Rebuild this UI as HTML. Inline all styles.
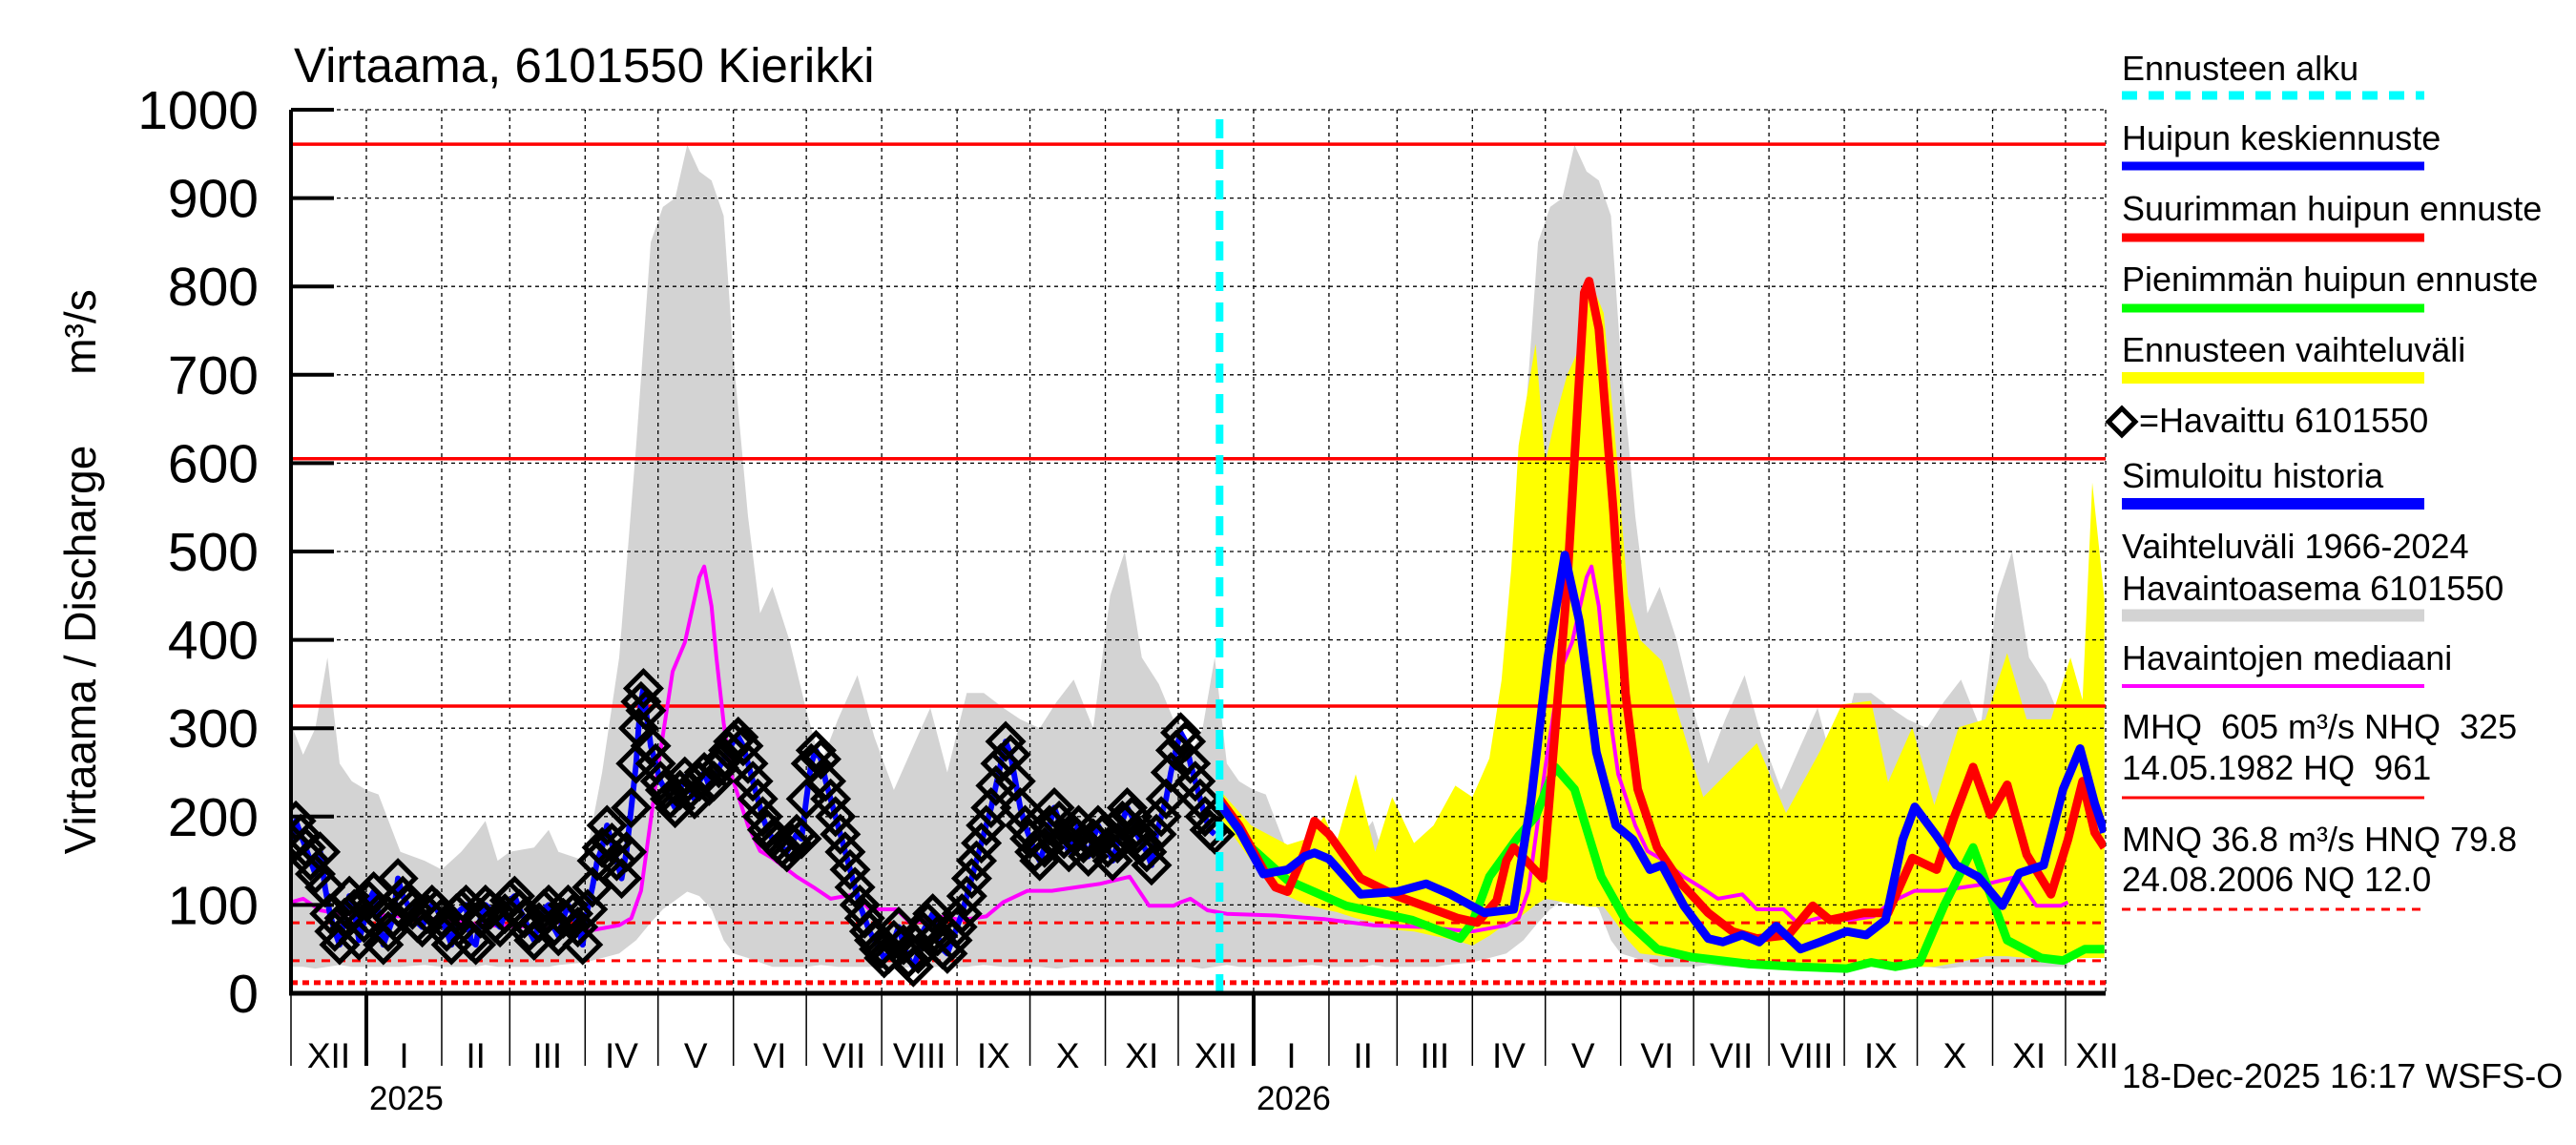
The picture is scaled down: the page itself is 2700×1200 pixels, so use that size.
<!DOCTYPE html>
<html><head><meta charset="utf-8">
<style>
html,body{margin:0;padding:0;background:#fff;}
svg{display:block;font-family:"Liberation Sans",Arial,sans-serif;}
</style></head>
<body>
<svg id="chart" width="2700" height="1200" viewBox="0 0 2700 1200" xmlns="http://www.w3.org/2000/svg">
<defs><clipPath id="plotclip"><rect x="305" y="115" width="1902" height="926"/></clipPath></defs>
<rect x="0" y="0" width="2700" height="1200" fill="#fff"/>
<text x="308" y="86" font-size="51">Virtaama, 6101550 Kierikki</text>
<text transform="translate(100,681) rotate(-90)" text-anchor="middle" font-size="46">Virtaama / Discharge</text>
<text transform="translate(100,348) rotate(-90)" text-anchor="middle" font-size="46">m³/s</text>
<g id="bands" clip-path="url(#plotclip)"></g>
<g id="grid"></g>
<g id="series" clip-path="url(#plotclip)"></g>
<g id="axes"></g>
<g id="legend">
  <text x="2224" y="84" font-size="36">Ennusteen alku</text>
  <line x1="2224" y1="100" x2="2541" y2="100" stroke="#00ffff" stroke-width="9" stroke-dasharray="16 12"/>
  <text x="2224" y="157" font-size="36">Huipun keskiennuste</text>
  <line x1="2224" y1="174" x2="2541" y2="174" stroke="#0000ff" stroke-width="9"/>
  <text x="2224" y="231" font-size="36">Suurimman huipun ennuste</text>
  <line x1="2224" y1="249" x2="2541" y2="249" stroke="#ff0000" stroke-width="9"/>
  <text x="2224" y="305" font-size="36">Pienimmän huipun ennuste</text>
  <line x1="2224" y1="323" x2="2541" y2="323" stroke="#00ff00" stroke-width="9"/>
  <text x="2224" y="379" font-size="36">Ennusteen vaihteluväli</text>
  <line x1="2224" y1="396" x2="2541" y2="396" stroke="#ffff00" stroke-width="12"/>
  <path d="M2224 428 L2238 442 L2224 456 L2210 442 Z" fill="none" stroke="#000" stroke-width="5"/>
  <text x="2242" y="453" font-size="36">=Havaittu 6101550</text>
  <text x="2224" y="511" font-size="36">Simuloitu historia</text>
  <line x1="2224" y1="528" x2="2541" y2="528" stroke="#0000ff" stroke-width="12"/>
  <text x="2224" y="585" font-size="36">Vaihteluväli 1966-2024</text>
  <text x="2224" y="629" font-size="36">Havaintoasema 6101550</text>
  <line x1="2224" y1="645" x2="2541" y2="645" stroke="#d3d3d3" stroke-width="13"/>
  <text x="2224" y="702" font-size="36">Havaintojen mediaani</text>
  <line x1="2224" y1="719" x2="2541" y2="719" stroke="#ff00ff" stroke-width="4"/>
  <text x="2224" y="774" font-size="36" xml:space="preserve">MHQ  605 m³/s NHQ  325</text>
  <text x="2224" y="817" font-size="36" xml:space="preserve">14.05.1982 HQ  961</text>
  <line x1="2224" y1="836" x2="2541" y2="836" stroke="#ff0000" stroke-width="3"/>
  <text x="2224" y="892" font-size="36">MNQ 36.8 m³/s HNQ 79.8</text>
  <text x="2224" y="934" font-size="36">24.08.2006 NQ 12.0</text>
  <line x1="2224" y1="953" x2="2541" y2="953" stroke="#ff0000" stroke-width="3" stroke-dasharray="9 7"/>
  <text x="2224" y="1140" font-size="36">18-Dec-2025 16:17 WSFS-O</text>
</g>
</svg>
<script>
// ---- data (days from 1 Dec 2024) ----
const climDays = [0,5,10,15,20,25,31,36,45,55,62,70,76,80,85,90,100,106,110,121,128,135,142,148,153,158,163,168,173,178,182,188,193,198,205,212,218,225,233,240,248,256,263,270,278,285,293,300,308,315,322,330,337,343,350,357,363,366];
const climMax = [305,270,300,380,260,240,230,225,160,150,140,160,180,195,150,160,165,185,160,150,250,380,620,850,890,900,960,930,920,880,720,540,430,460,400,320,260,310,360,290,230,280,323,250,340,340,323,310,300,330,355,300,450,500,380,350,310,305];
const climMin = [30,30,28,30,32,30,30,30,30,32,30,30,30,32,30,30,30,30,32,35,40,45,60,80,95,105,115,110,95,60,45,40,35,30,30,30,32,30,30,30,28,30,30,30,30,32,30,30,30,28,30,30,30,30,30,30,30,30];
const medDays = [0,5,12,20,40,60,80,100,121,135,140,144,151,157,162,168,170,173,175,178,181,188,193,198,208,215,222,232,238,249,255,266,276,286,293,303,313,323,333,345,353,363,366];
const medVals = [103,107,94,90,88,84,77,75,70,77,85,116,256,364,397,471,483,438,380,306,248,190,161,153,132,120,107,112,95,95,79,87,83,87,103,116,116,120,124,132,99,99,103];
const obsDays = [0,2,4,6,8,10,12,14,16,18,20,22,24,26,28,30,32,34,36,38,40,42,44,46,48,50,52,54,56,58,60,62,64,66,68,70,72,74,76,78,80,82,84,86,88,90,92,94,96,98,100,102,104,106,108,110,112,114,116,118,120,122,124,126,128,130,132,134,136,138,140,142,143,144,145,146,148,150,152,154,156,158,160,162,164,166,168,170,172,174,176,178,180,182,184,186,188,190,192,194,196,198,200,202,204,206,208,210,212,214,216,218,220,222,224,226,228,230,232,234,236,238,240,242,244,246,248,250,252,254,256,258,260,262,264,266,268,270,272,274,276,278,280,282,284,286,288,290,292,294,296,298,300,302,304,306,308,310,312,314,316,318,320,322,324,326,328,330,332,334,336,338,340,342,344,346,348,350,352,354,356,358,360,362,364,366,368,370,372,374,376,378,380];
const obsVals = [170,195,180,165,150,135,160,120,90,70,55,85,110,95,60,80,105,115,90,55,70,85,130,110,100,95,80,75,90,100,95,85,70,55,90,95,100,60,55,85,100,95,80,75,90,105,110,95,85,70,60,80,95,100,75,65,85,100,90,75,55,95,120,150,165,190,170,150,130,160,210,260,300,330,345,320,280,260,240,230,220,210,230,245,230,220,240,250,235,240,255,265,275,285,290,280,260,240,220,200,185,175,170,165,160,170,180,175,220,260,275,265,240,220,200,180,160,140,120,100,85,70,60,50,40,45,60,75,55,40,30,45,70,80,90,65,50,45,60,75,90,110,130,150,170,190,210,235,260,285,270,240,210,190,175,160,150,165,190,210,195,175,160,180,190,170,155,175,190,180,165,150,170,195,210,200,180,170,160,145,180,200,220,250,275,295,285,260,240,220,200,185,180];
const fcDays = [382,390,400,410,417,421,427,440,455,467,477,491,503,510,517,524,530,537,545,552,559,564,573,583,589,597,604,611,621,629,640,648,656,663,668,677,685,694,704,711,721,729,736,742,746];
const fcMean = [215,185,135,140,155,159,152,112,115,124,112,91,95,215,380,496,421,273,190,174,140,145,99,62,58,66,58,76,50,58,70,66,83,174,211,178,145,132,99,136,145,231,277,215,182];
const maxDays = [382,390,400,405,410,417,421,427,440,455,480,488,496,500,503,515,525,532,534,538,544,549,554,562,572,583,593,603,616,626,633,647,657,667,677,684,692,699,706,714,724,731,737,742,746];
const fcMax = [220,190,140,120,115,160,195,180,130,110,85,80,105,150,165,130,463,793,806,752,545,339,231,165,124,91,70,62,66,99,83,91,91,153,140,198,256,202,236,157,112,174,240,182,165];
const minDays = [382,395,410,434,461,481,486,493,505,512,520,528,539,549,562,576,600,620,640,650,660,670,680,692,706,720,729,738,746];
const fcMin = [215,165,128,99,83,62,80,132,178,200,256,231,132,83,50,41,33,30,28,35,30,35,99,165,60,40,37,50,50];
const rngDays = [382,395,410,418,425,430,438,446,453,462,470,479,486,493,498,502,505,512,516,520,525,530,534,540,545,550,555,564,581,603,615,629,638,650,657,667,676,686,697,706,714,724,732,737,741,746];
const rngHigh = [230,190,168,175,200,170,248,160,222,170,190,235,222,266,354,480,620,735,600,650,700,730,810,770,620,450,400,376,222,283,204,274,327,331,239,301,213,301,310,385,310,310,380,332,578,446];
const rngLow = [200,150,110,100,95,92,85,80,72,70,65,60,54,65,75,80,85,100,107,105,102,100,98,98,80,60,45,42,38,30,28,28,28,30,30,30,30,35,42,42,40,40,38,40,40,40];
const yTicks = [0,100,200,300,400,500,600,700,800,900,1000];
const monthStarts = [0,31,62,90,121,151,182,212,243,274,304,335,365,396,427,455,486,516,547,577,608,639,669,700,730,761];
const monthNames = ["XII","I","II","III","IV","V","VI","VII","VIII","IX","X","XI","XII","I","II","III","IV","V","VI","VII","VIII","IX","X","XI","XII"];
const refSolid = [961,605,325];
const refDashed = [79.8,36.8,12.0];

// ---- scales ----
const X0=305, X1=2207, YB=1041, YT=115, DMAX=746.5;
function X(d){return X0+d*(X1-X0)/DMAX;}
function Y(v){return YB-v*(YB-YT)/1000;}
const NS="http://www.w3.org/2000/svg";
function mk(tag,attrs,parent){const e=document.createElementNS(NS,tag);for(const k in attrs)e.setAttribute(k,attrs[k]);parent.appendChild(e);return e;}
function pts(ds,vs){return ds.map((d,i)=>X(d).toFixed(1)+","+Y(vs[i]).toFixed(1)).join(" ");}
const bands=document.getElementById('bands'), grid=document.getElementById('grid'), series=document.getElementById('series'), axes=document.getElementById('axes');

const cD=[],cMax=[],cMin=[],mD=[],mV=[];
for(const off of [0,365]){
  climDays.forEach((d,i)=>{if(off===0||d>0){cD.push(d+off);cMax.push(climMax[i]);cMin.push(climMin[i]);}});
  medDays.forEach((d,i)=>{if(off===0||d>0){mD.push(d+off);mV.push(medVals[i]);}});
}
const gray=mk('polygon',{points:pts(cD,cMax)+" "+pts(cD.slice().reverse(),cMin.slice().reverse()),fill:"#d3d3d3"},bands);


const yel=mk('polygon',{points:pts(rngDays,rngHigh)+" "+pts(rngDays.slice().reverse(),rngLow.slice().reverse()),fill:"#ffff00"},bands);



yTicks.forEach(v=>{
  const g=mk('line',{x1:X0,x2:X1,y1:Y(v),y2:Y(v),stroke:"#000","stroke-width":1.3,"stroke-dasharray":"4 4"},grid);
  
  
  const t=mk('line',{x1:X0,x2:350,y1:Y(v),y2:Y(v),stroke:"#000","stroke-width":4},axes);
  
  
  const l=mk('text',{x:271,y:Y(v)+20,"text-anchor":"end","font-size":57},axes);
  l.textContent=v;
  
  
});
monthStarts.forEach((d,i)=>{
  if(d>DMAX) return;
  const isYear=(i===1||i===13);
  if(d>0){
    const g=mk('line',{x1:X(d),x2:X(d),y1:YT,y2:YB,stroke:"#000","stroke-width":1.3,"stroke-dasharray":"4 4"},grid);
    
    
  }
  const t=mk('line',{x1:X(d),x2:X(d),y1:YB,y2:1117,stroke:"#000","stroke-width":isYear?4:1.5},axes);
  
  
  if(i<monthNames.length){
    const c = i===24 ? 743 : (d+monthStarts[i+1])/2;
    const l=mk('text',{x:X(c),y:1119,"text-anchor":"middle","font-size":37},axes);
    l.textContent=monthNames[i];
    
    
  }
  if(isYear){
    const y=mk('text',{x:X(d)+3,y:1163,"font-size":35},axes);
    y.textContent = i===1?"2025":"2026";
    
    
  }
});
const gr=mk('line',{x1:X1,x2:X1,y1:YT,y2:YB,stroke:"#000","stroke-width":1.3,"stroke-dasharray":"4 4"},grid);



refSolid.forEach(v=>{
  const l=mk('line',{x1:X0,x2:X1,y1:Y(v),y2:Y(v),stroke:"#ff0000","stroke-width":3.5},series);
  
  
});
refDashed.forEach((v,i)=>{
  const l=mk('line',{x1:X0,x2:X1,y1:Y(v),y2:Y(v),stroke:"#ff0000","stroke-width":i===2?5:3,"stroke-dasharray":i===2?"7 5":"9 7"},series);
  
  
});

const med=mk('polyline',{points:pts(mD,mV),fill:"none",stroke:"#ff00ff","stroke-width":4,"stroke-linejoin":"round"},series);


const sim=mk('polyline',{points:pts(obsDays,obsVals),fill:"none",stroke:"#0000ff","stroke-width":6,"stroke-linejoin":"round"},series);


obsDays.forEach((d,i)=>{
  const x=X(d),y=Y(obsVals[i]),r=18;
  const p=mk('path',{d:`M${x} ${y-r} L${x+r} ${y} L${x} ${y+r} L${x-r} ${y} Z`,fill:"none",stroke:"#000","stroke-width":5},series);
  
  
});
const gl=mk('polyline',{points:pts(minDays,fcMin),fill:"none",stroke:"#00ff00","stroke-width":9,"stroke-linejoin":"round"},series);


const rl=mk('polyline',{points:pts(maxDays,fcMax),fill:"none",stroke:"#ff0000","stroke-width":9,"stroke-linejoin":"round"},series);


const bl=mk('polyline',{points:pts(fcDays,fcMean),fill:"none",stroke:"#0000ff","stroke-width":9,"stroke-linejoin":"round"},series);


const cy=mk('line',{x1:X(382),x2:X(382),y1:YT+10,y2:YB,stroke:"#00ffff","stroke-width":8,"stroke-dasharray":"20 12"},series);



const ya=mk('line',{x1:X0,x2:X0,y1:YT,y2:YB+2,stroke:"#000","stroke-width":4},axes);


const xa=mk('line',{x1:X0-2,x2:X1,y1:YB,y2:YB,stroke:"#000","stroke-width":5},axes);


</script>
</body></html>
